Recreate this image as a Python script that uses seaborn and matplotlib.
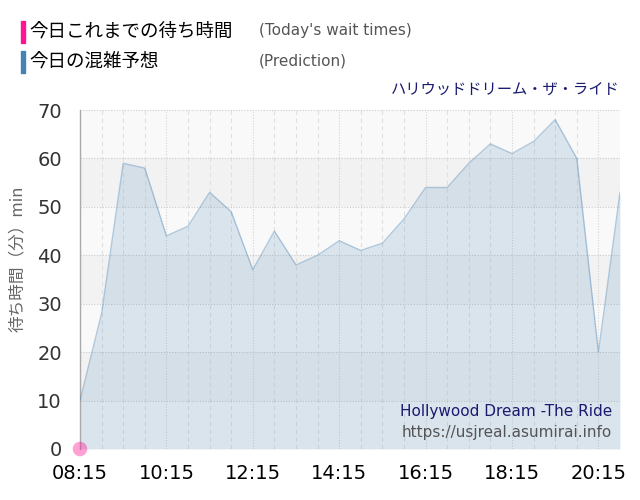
import numpy as np
import pandas as pd
import matplotlib
matplotlib.use("Agg")
import matplotlib.pyplot as plt
from matplotlib.patches import Rectangle
from matplotlib.ticker import MultipleLocator, FixedLocator
import seaborn as sns

# data (30 min steps)
times = ["08:15", "08:45", "09:15", "09:45", "10:15", "10:45", "11:15", "11:45",
         "12:15", "12:45", "13:15", "13:45", "14:15", "14:45", "15:15", "15:45",
         "16:15", "16:45", "17:15", "17:45", "18:15", "18:45", "19:15", "19:45",
         "20:15", "20:45"]
prediction = [10, 28, 59, 58, 44, 46, 53, 49, 37, 45, 38, 40, 43, 41, 42.5, 47.5,
              54, 54, 59, 63, 61, 63.5, 68, 60, 20, 53]
actual_times = ["08:15"]
actual_waits = [0]
major_labels = ["08:15", "10:15", "12:15", "14:15", "16:15", "18:15", "20:15"]

title_jp = "ハリウッドドリーム・ザ・ライド"
title_en = "Hollywood Dream -The Ride"
site = "https://usjreal.asumirai.info"


def to_hours(t):
    h, m = t.split(":")
    return int(h) + int(m) / 60


df = pd.DataFrame({"hour": [to_hours(t) for t in times], "wait": prediction})
act = pd.DataFrame({"hour": [to_hours(t) for t in actual_times], "wait": actual_waits})

sns.set_theme(style="white")
plt.rcParams["font.family"] = ["DejaVu Sans", "Noto Sans CJK JP"]
jp = ["Noto Sans CJK JP", "DejaVu Sans"]

fig = plt.figure(figsize=(6.4, 5.0), dpi=100)
ax = fig.add_axes([0.125, 0.102, 0.84375, 0.678])

x0, x1 = df["hour"].min(), df["hour"].max()
ax.set_xlim(x0, x1)
ax.set_ylim(0, 70)

# alternating horizontal bands
for lo in range(0, 70, 10):
    ax.axhspan(lo, lo + 10, color="#f9f9f9" if (lo // 10) % 2 == 0 else "#f2f2f2",
               lw=0, zorder=0)

# grid
ax.xaxis.set_major_locator(FixedLocator([to_hours(t) for t in major_labels]))
ax.xaxis.set_minor_locator(FixedLocator(df["hour"].tolist()))
ax.yaxis.set_major_locator(MultipleLocator(10))
ax.grid(which="minor", axis="x", color="#e0e0e0", ls=(0, (4, 3)), lw=0.8, zorder=1)
ax.grid(which="major", axis="x", color="#d4d4d4", ls=(0, (1, 1.5)), lw=0.8, zorder=1)
ax.grid(which="major", axis="y", color="#cccccc", ls=(0, (1, 1.5)), lw=0.8, zorder=1)
ax.set_axisbelow(True)

ax.fill_between(df["hour"], df["wait"], 0, color="#4682b4", alpha=0.17, lw=0, zorder=2)
sns.lineplot(data=df, x="hour", y="wait", ax=ax, color="#4682b4", alpha=0.4, lw=1.0,
             zorder=3)
sns.scatterplot(data=act, x="hour", y="wait", ax=ax, color="#ff1493", alpha=0.4, s=110,
                edgecolor="none", zorder=5, clip_on=False)

ax.set_xticklabels(major_labels)
ax.tick_params(axis="x", which="major", labelsize=14, labelcolor="#000000", length=8,
               color="#e6e6e6", width=1, pad=3)
ax.tick_params(axis="x", which="minor", length=0)
ax.tick_params(axis="y", labelsize=14, labelcolor="#333333", length=11, color="#e6e6e6",
               width=1, pad=2)
for s in ["top", "right", "bottom"]:
    ax.spines[s].set_visible(False)
ax.spines["left"].set_color("#aaaaaa")
ax.spines["left"].set_linewidth(1)
ax.set_xlabel("")
ax.set_ylabel("待ち時間（分）min", family=jp, fontsize=12, color="#666666")
ax.yaxis.set_label_coords(-0.100, 0.56)

# titles inside / above plot
ax.text(1.0, 1.06, title_jp, transform=ax.transAxes, ha="right", va="center",
        family=jp, fontsize=11, color="#191970")
ax.text(0.985, 0.11, title_en, transform=ax.transAxes, ha="right", va="center",
        fontsize=11, color="#191970")
ax.text(0.985, 0.05, site, transform=ax.transAxes, ha="right", va="center",
        fontsize=11, color="#555555")

# legend at the top
fig.patches.append(Rectangle((21 / 640, 1 - 43 / 500), 4 / 640, 22 / 500,
                             transform=fig.transFigure, color="#ff1493", zorder=5))
fig.patches.append(Rectangle((21 / 640, 1 - 73 / 500), 4 / 640, 22 / 500,
                             transform=fig.transFigure, color="#4682b4", zorder=5))
fig.text(29 / 640, 1 - 32 / 500, "今日これまでの待ち時間", family=jp, fontsize=13.3,
         color="#000000", va="center")
fig.text(29 / 640, 1 - 62 / 500, "今日の混雑予想", family=jp, fontsize=13.3,
         color="#000000", va="center")
fig.text(259 / 640, 1 - 31 / 500, "(Today's wait times)", fontsize=11, color="#555555",
         va="center")
fig.text(259 / 640, 1 - 61 / 500, "(Prediction)", fontsize=11, color="#555555",
         va="center")

fig.savefig("out.png", dpi=100)
